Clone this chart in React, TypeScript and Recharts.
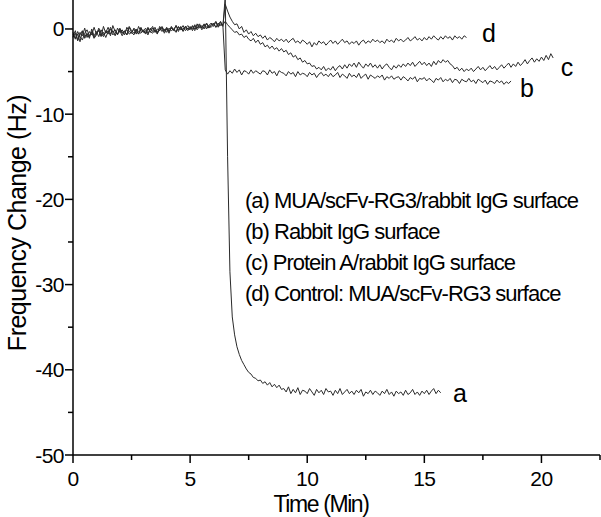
import { LineChart, Line, XAxis, YAxis } from "recharts";

// sampling step of the QCM recording, minutes
const STEP_MIN = 0.1;

// (a) MUA/scFv-RG3/rabbit IgG surface
const seriesA = [
  -0.9, -0.2, -1.3, -0.4, -0.8, 0.1, -1.0, -0.3, -0.7, 0.2,
  -0.6, -0.1, -0.9, 0.3, -0.5, -0.2, -0.8, 0.4, -0.3, -0.6,
  0.1, -0.5, -0.2, -0.7, 0.2, -0.4, 0.0, -0.6, 0.3, -0.3,
  -0.1, -0.5, 0.2, -0.4, 0.1, -0.2, -0.6, 0.3, -0.1, -0.3,
  0.2, -0.3, 0.1, -0.2, 0.4, -0.1, 0.2, -0.3, 0.3, 0.0,
  0.3, -0.2, 0.4, 0.1, 0.5, -0.1, 0.3, 0.6, 0.1, 0.4,
  0.7, 0.2, 0.5, 0.9, 0.3, 3.8,
  -15.0, -28.5, -33.8, -35.9, -37.3, -38.2, -38.9, -39.4, -39.9, -40.3,
  -40.5, -40.9, -41.0, -41.3, -41.2, -41.6, -41.4, -41.8, -41.5, -42.0,
  -41.7, -42.1, -41.8, -42.3,
  -42.2, -42.6, -42.0, -42.8, -42.3, -42.7, -42.1, -42.9, -42.4, -42.5,
  -42.8, -42.2, -42.6, -43.0, -42.3, -42.7, -42.4, -42.9, -42.2, -42.6,
  -42.5, -43.0, -42.4, -42.8, -42.2, -42.9, -42.6, -42.3, -42.8, -42.5,
  -42.9, -42.4, -42.7, -42.3, -43.1, -42.6, -42.8, -42.4, -42.9, -42.5,
  -42.7, -43.0, -42.5, -42.8, -42.3, -42.9, -42.6, -43.1, -42.5, -42.8,
  -42.6, -43.0, -42.4, -42.9, -42.7, -42.3, -42.9, -42.6, -43.0, -42.5,
  -42.8, -42.4, -42.9, -42.5, -42.2, -42.8, -42.4, -42.7,
];

// (b) Rabbit IgG surface
const seriesB = [
  -0.4, -1.2, -0.6, -1.5, -0.3, -0.9, -0.5, -1.1, 0.0, -0.8,
  -0.3, -0.9, -0.1, -0.7, -0.4, 0.2, -0.6, -0.2, -0.8, 0.1,
  -0.4, -0.1, -0.7, 0.2, -0.3, -0.5, 0.1, -0.2, -0.6, 0.0,
  -0.3, 0.1, -0.5, -0.1, 0.3, -0.4, 0.0, -0.2, 0.2, -0.5,
  0.0, -0.3, 0.3, -0.1, -0.4, 0.2, 0.0, 0.4, -0.2, 0.1,
  -0.1, 0.4, 0.0, 0.3, 0.6, 0.1, 0.5, 0.0, 0.4, 0.7,
  0.3, 0.8, 0.2, 0.6, 0.4,
  -4.8, -5.3, -4.9, -5.2, -4.7,
  -5.1, -4.8, -5.4, -4.9, -5.0, -5.3, -4.8, -5.2, -4.9, -5.1,
  -5.3, -4.9, -5.0, -5.4, -4.8, -5.2, -5.0, -5.5, -4.9, -5.1,
  -5.2, -5.5, -5.0, -5.3, -5.1, -5.6, -5.0, -5.4, -5.2, -5.3,
  -5.6, -5.1, -5.4, -5.2, -5.7, -5.3, -5.1, -5.5, -5.3, -5.6,
  -5.2, -5.6, -5.4, -5.1, -5.7, -5.3, -5.5, -5.8, -5.2, -5.6,
  -5.4, -5.7, -5.2, -5.8, -5.5, -5.3, -5.9, -5.4, -5.6, -5.8,
  -5.5, -5.7, -5.4, -6.0, -5.6, -5.8, -5.5, -5.9, -5.7, -5.6,
  -6.0, -5.6, -5.8, -6.1, -5.7, -5.9, -5.6, -6.2, -5.8, -5.9,
  -5.7, -6.1, -5.8, -6.0, -6.3, -5.8, -6.0, -5.7, -6.2, -5.9,
  -6.1, -5.8, -6.3, -5.9, -6.0, -6.4, -5.9, -6.1, -6.2, -5.8,
  -6.2, -6.0, -6.4, -5.9, -6.1, -6.3, -6.0, -6.5, -6.1, -6.2,
  -6.4, -6.0, -6.3, -6.1, -6.5, -6.2, -6.4, -6.1,
];

// (c) Protein A/rabbit IgG surface
const seriesC = [
  -1.0, -0.5, -1.4, -0.7, -0.2, -1.1, -0.6, -0.9, -0.3, -1.0,
  -0.5, -0.2, -0.8, -0.4, -1.0, -0.3, 0.0, -0.7, -0.4, -0.6,
  -0.2, -0.8, -0.3, -0.1, -0.6, -0.4, -0.7, 0.0, -0.3, -0.5,
  -0.2, -0.6, 0.0, -0.3, -0.5, -0.1, -0.4, 0.1, -0.3, 0.0,
  -0.4, 0.1, -0.2, 0.0, -0.3, 0.3, -0.1, 0.0, 0.3, -0.2,
  0.2, 0.0, 0.5, -0.1, 0.3, 0.2, 0.6, 0.2, 0.3, 0.5,
  0.6, 0.2, 0.7, 0.4, 0.5,
  0.9, 0.5, 0.2, -0.1, -0.4,
  -0.3, -0.7, -0.6, -1.0, -0.8, -1.2, -1.4, -1.1, -1.6, -1.3,
  -1.8, -1.6, -2.1, -1.9, -2.3, -2.0, -2.4, -2.2, -2.6, -2.3,
  -2.7, -2.5, -3.0, -2.8, -3.3, -3.1, -3.6, -3.4, -3.9, -3.7,
  -4.1, -4.0, -4.4, -4.3, -4.7, -4.5, -4.8, -4.4, -4.9, -4.6,
  -4.8, -4.4, -4.9, -4.5, -4.3, -4.7, -4.2, -4.6, -4.1, -4.4,
  -4.0, -4.5, -3.9, -4.3, -4.6, -4.1, -4.4, -4.0, -4.5, -4.2,
  -4.6, -4.2, -4.7, -4.3, -4.1, -4.5, -4.8, -4.3, -4.6, -4.2,
  -4.5, -4.1, -4.4, -4.0, -4.3, -3.9, -4.4, -4.1, -3.8, -4.2,
  -3.9, -4.3, -4.0, -4.4, -3.8, -4.2, -3.7, -4.0, -3.6, -3.9,
  -3.7, -4.1, -4.3, -4.7, -4.5, -4.9, -4.6, -5.0, -4.7, -4.9,
  -4.6, -5.0, -4.7, -4.4, -4.8, -4.5, -4.9, -4.6, -4.3, -4.7,
  -4.4, -4.8, -4.5, -4.2, -4.6, -4.3, -4.0, -4.5, -4.1, -4.4,
  -3.9, -4.3, -4.0, -3.6, -4.1, -3.7, -3.4, -3.9, -3.5, -3.8,
  -3.3, -3.7, -3.1, -3.6, -2.9, -3.4,
];

// (d) Control: MUA/scFv-RG3 surface
const seriesD = [
  -0.6, -1.1, -0.3, -0.9, -1.3, -0.5, -0.1, -0.8, -0.4, -1.1,
  -0.7, 0.1, -0.5, -0.9, -0.2, -0.6, 0.2, -0.4, -0.1, -0.7,
  0.0, -0.5, -0.3, -0.7, 0.3, -0.2, -0.5, -0.1, -0.6, 0.2,
  -0.4, -0.2, -0.7, 0.1, -0.3, 0.2, -0.5, -0.1, 0.3, -0.2,
  0.1, -0.5, 0.2, -0.1, 0.4, -0.3, 0.3, -0.2, 0.1, 0.4,
  0.0, 0.3, -0.2, 0.6, 0.1, 0.4, 0.0, 0.7, 0.3, 0.2,
  0.5, 0.9, 0.3, 0.8, 0.4,
  2.9, 2.1, 1.4, 0.9, 0.5,
  0.6, 0.0, 0.3, -0.4, -0.1, -0.6, -0.3, -0.8, -0.5, -0.9,
  -0.7, -1.1, -0.8, -1.3, -1.0, -1.2, -1.5, -1.1, -1.4, -1.2,
  -1.5, -1.2, -1.6, -1.3, -1.1, -1.6, -1.4, -1.7, -1.3, -1.5,
  -1.8, -1.5, -2.1, -1.6, -1.9, -1.4, -1.7, -1.5, -1.9, -1.6,
  -1.3, -1.7, -1.4, -1.8, -1.5, -1.2, -1.6, -1.4, -1.8, -1.5,
  -1.7, -1.4, -1.9, -1.5, -1.3, -1.7, -1.4, -1.6, -1.2, -1.5,
  -1.3, -1.6, -1.4, -1.7, -1.2, -1.5, -1.3, -1.6, -1.1, -1.4,
  -1.2, -1.5, -1.3, -1.0, -1.4, -1.2, -0.9, -1.3, -1.1, -1.4,
  -1.0, -1.3, -0.9, -1.2, -0.8, -1.1, -1.3, -0.9, -1.2, -0.8,
  -1.1, -0.9, -1.3, -0.8, -1.1, -0.9, -1.2, -0.8, -1.0,
];

const xTicks = [0, 2.5, 5, 7.5, 10, 12.5, 15, 17.5, 20, 22.5];
const yTicks = [-50, -45, -40, -35, -30, -25, -20, -15, -10, -5, 0];

const legendLines = [
  "(a) MUA/scFv-RG3/rabbit IgG surface",
  "(b) Rabbit IgG surface",
  "(c) Protein A/rabbit IgG surface",
  "(d) Control: MUA/scFv-RG3 surface",
];

const n = Math.max(seriesA.length, seriesB.length, seriesC.length, seriesD.length);
const data = Array.from({ length: n }, (_, i) => ({
  t: Math.round(i * STEP_MIN * 10) / 10,
  a: seriesA[i],
  b: seriesB[i],
  c: seriesC[i],
  d: seriesD[i],
}));

const FONT = "'Liberation Sans', Arial, sans-serif";

const XTick = ({ x, y, payload }: any) => {
  const major = payload.value % 5 === 0;
  return (
    <g>
      <line x1={x} x2={x} y1={y} y2={y + (major ? 8 : 5)} stroke="#000" strokeWidth={1.5} />
      {major && (
        <text x={x} y={y + 31} textAnchor="middle" fontSize={21} fontFamily={FONT} letterSpacing={-0.5} fill="#000">
          {payload.value}
        </text>
      )}
    </g>
  );
};

const YTick = ({ x, y, payload }: any) => {
  const major = payload.value % 10 === 0;
  return (
    <g>
      <line x1={x} x2={x - (major ? 8 : 5)} y1={y} y2={y} stroke="#000" strokeWidth={1.5} />
      {major && (
        <text x={x - 9} y={y + 7.5} textAnchor="end" fontSize={21} fontFamily={FONT} letterSpacing={-0.5} fill="#000">
          {payload.value}
        </text>
      )}
    </g>
  );
};

const lineColor = "#2a2a2a";

export default function App() {
  return (
    <div style={{ position: "absolute", left: 0, top: 0, width: 601, height: 517, background: "#fff" }}>
      <LineChart width={601} height={517} data={data} margin={{ top: 0, right: 1, bottom: 0, left: 0 }}>
        <XAxis
          dataKey="t"
          type="number"
          domain={[0, 22.5]}
          ticks={xTicks}
          interval={0}
          height={62}
          tickSize={0}
          tickMargin={0}
          tick={<XTick />}
          axisLine={{ stroke: "#000", strokeWidth: 1.5 }}
          tickLine={false}
        />
        <YAxis
          type="number"
          domain={[-50, 3.4]}
          allowDataOverflow
          ticks={yTicks}
          interval={0}
          width={73}
          tickSize={0}
          tickMargin={0}
          tick={<YTick />}
          axisLine={{ stroke: "#000", strokeWidth: 1.5 }}
          tickLine={false}
        />
        <Line dataKey="a" stroke={lineColor} strokeWidth={1} dot={false} isAnimationActive={false} />
        <Line dataKey="b" stroke={lineColor} strokeWidth={1} dot={false} isAnimationActive={false} />
        <Line dataKey="c" stroke={lineColor} strokeWidth={1} dot={false} isAnimationActive={false} />
        <Line dataKey="d" stroke={lineColor} strokeWidth={1} dot={false} isAnimationActive={false} />
      </LineChart>
      <svg
        width={601}
        height={517}
        style={{ position: "absolute", left: 0, top: 0, pointerEvents: "none" }}
        fontFamily={FONT}
        fill="#000"
      >
        <text x={17} y={223} transform="rotate(-90 17 223)" textAnchor="middle" dominantBaseline="central" fontSize={25} letterSpacing={-0.5}>
          Frequency Change (Hz)
        </text>
        <text x={321} y={512} textAnchor="middle" fontSize={23} letterSpacing={-1.4}>
          Time (Min)
        </text>
        {legendLines.map((s, i) => (
          <text key={s} x={245} y={208 + i * 31} fontSize={22} letterSpacing={-1}>
            {s}
          </text>
        ))}
        <text x={460} y={402} textAnchor="middle" fontSize={25}>a</text>
        <text x={527} y={97} textAnchor="middle" fontSize={25}>b</text>
        <text x={567} y={76} textAnchor="middle" fontSize={25}>c</text>
        <text x={489} y={42} textAnchor="middle" fontSize={25}>d</text>
      </svg>
    </div>
  );
}
